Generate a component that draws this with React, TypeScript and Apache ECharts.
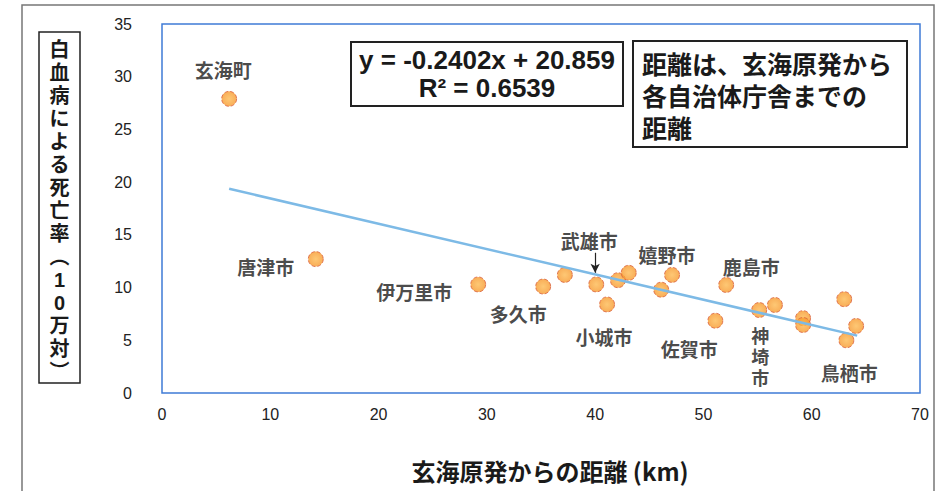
import React, { useEffect, useRef } from "react";
import * as echarts from "echarts";

// 自治体ごとの 玄海原発からの距離 (km) と 白血病による死亡率 (10万対)
const names = [
  "玄海町", "唐津市", "伊万里市", "多久市", "", "武雄市", "小城市", "", "", "", "嬉野市",
  "鹿島市", "佐賀市", "神埼市", "", "", "", "", "", "鳥栖市",
];
const distances = [6.2, 14.2, 29.2, 35.2, 37.2, 40.1, 41.1, 42.1, 43.1, 46.1, 47.1,
  52.1, 51.1, 55.15, 56.6, 59.2, 59.2, 63.0, 64.1, 63.2];
const rates = [27.9, 12.7, 10.3, 10.1, 11.2, 10.3, 8.4, 10.7, 11.4, 9.8, 11.2,
  10.25, 6.86, 7.87, 8.35, 7.1, 6.45, 8.9, 6.36, 5.0];
// label offsets (px) relative to each point
const labelOffsets: Record<string, [number, number]> = {
  "玄海町": [-6, -29],
  "唐津市": [-50, 7],
  "伊万里市": [-64, 7],
  "多久市": [-25, 27],
  "武雄市": [-7, -44],
  "小城市": [-3, 32],
  "嬉野市": [-5, -20],
  "鹿島市": [25, -18],
  "佐賀市": [-26, 28],
  "神埼市": [1, 48],
  "鳥栖市": [3, 32],
};
// arrow from the 武雄市 label down to its point (data units)
const arrowX = 40.0;
const arrowFromY = 13.3;
const arrowToY = 11.4;
// 近似直線 endpoints
const trendX = [6.2, 64.2];
const trendY = [19.37, 5.44];
const xTicks = { min: 0, max: 70, interval: 10 };
const yTicks = { min: 0, max: 35, interval: 5 };
const equationLines = ["y = -0.2402x + 20.859", "R² = 0.6539"];
const noteText = "距離は、玄海原発から\n各自治体庁舎までの\n距離";
const xTitle = "玄海原発からの距離 (km)";
const yTitleChars = ["白", "血", "病", "に", "よ", "る", "死", "亡", "率", "︵", "1", "0", "万", "対", "︶"];

const CJK = "'Noto Sans CJK JP', 'Noto Sans', sans-serif";
const STACK = "'Liberation Sans', 'Noto Sans CJK JP', sans-serif";

export default function App() {
  const ref = useRef<HTMLDivElement>(null);
  useEffect(() => {
    if (!ref.current) return;
    const chart = echarts.init(ref.current, null, { renderer: "svg" });
    const scatterData = distances.map((d, i) => {
      const n = names[i];
      const item: any = { value: [d, rates[i]], name: n };
      if (n && labelOffsets[n]) {
        let fmt = n;
        const vertical = n === "神埼市";
        if (vertical) fmt = n.split("").join("\n");
        item.label = {
          show: true,
          position: "inside",
          offset: labelOffsets[n],
          formatter: fmt,
          align: "center",
          verticalAlign: "middle",
          fontSize: vertical ? 18 : 19,
          fontFamily: vertical ? STACK : CJK,
          lineHeight: 21,
        };
      }
      return item;
    });
    const yTitleGraphics = yTitleChars.map((c, i) => ({
      type: "text",
      x: 59.5,
      y: 50 + i * 23,
      style: {
        text: c,
        fontSize: 20,
        fontWeight: "bold",
        fontFamily: STACK,
        fill: "#1a1a1a",
        align: "center",
        verticalAlign: "middle",
      },
    }));
    const equationGraphics = equationLines.map((t, i) => ({
      type: "text",
      x: 487,
      y: 60 + i * 28,
      style: {
        text: t,
        fontSize: 26,
        fontWeight: "bold",
        fontFamily: "'Liberation Sans', sans-serif",
        fill: "#1a1a1a",
        align: "center",
        verticalAlign: "middle",
      },
    }));
    chart.setOption({
      animation: false,
      backgroundColor: "#ffffff",
      grid: {
        left: 162,
        top: 24,
        width: 758,
        height: 369,
        show: true,
        borderColor: "#3F7BD6",
        borderWidth: 1.5,
        backgroundColor: "transparent",
      },
      xAxis: {
        type: "value",
        min: xTicks.min,
        max: xTicks.max,
        interval: xTicks.interval,
        axisLine: { show: false },
        axisTick: { show: false },
        splitLine: { show: false },
        axisLabel: {
          margin: 13,
          fontSize: 16,
          color: "#222",
          fontFamily: "'Liberation Sans Narrow', 'Liberation Sans', sans-serif",
        },
      },
      yAxis: {
        type: "value",
        min: yTicks.min,
        max: yTicks.max,
        interval: yTicks.interval,
        axisLine: { show: false },
        axisTick: { show: false },
        splitLine: { show: false },
        axisLabel: {
          margin: 30,
          fontSize: 16,
          color: "#222",
          fontFamily: "'Liberation Sans', sans-serif",
        },
      },
      series: [
        {
          type: "scatter",
          data: scatterData,
          symbolSize: 15,
          z: 2,
          itemStyle: {
            color: {
              type: "radial",
              x: 0.5,
              y: 0.5,
              r: 0.5,
              colorStops: [
                { offset: 0, color: "#FDBA52" },
                { offset: 1, color: "#F7992E" },
              ],
            },
            borderColor: "#D9603F",
            borderWidth: 1,
            borderType: "dashed",
          },
          label: {
            show: false,
            color: "#1a1a1a",
            fontSize: 19,
            fontWeight: "bold",
            fontFamily: CJK,
          },
          markLine: {
            silent: true,
            symbol: ["none", "arrow"],
            symbolSize: [7, 9],
            label: { show: false },
            lineStyle: { color: "#222", width: 1.2, type: "solid" },
            data: [[{ coord: [arrowX, arrowFromY] }, { coord: [arrowX, arrowToY] }]],
          },
          emphasis: { disabled: true },
        },
        {
          type: "line",
          data: trendX.map((x, i) => [x, trendY[i]]),
          symbol: "none",
          z: 3,
          lineStyle: { color: "#7DBAE6", width: 2.5 },
          emphasis: { disabled: true },
        },
      ],
      graphic: [
        {
          type: "rect",
          shape: { x: 22, y: 5, width: 912, height: 500 },
          style: { fill: "none", stroke: "#777", lineWidth: 1.5 },
          silent: true,
        },
        {
          type: "rect",
          shape: { x: 39, y: 32, width: 41, height: 351 },
          style: { fill: "#fff", stroke: "#222", lineWidth: 1.5 },
        },
        ...yTitleGraphics,
        {
          type: "rect",
          shape: { x: 351, y: 42, width: 272, height: 64 },
          style: { fill: "#fff", stroke: "#222", lineWidth: 2 },
        },
        ...equationGraphics,
        {
          type: "rect",
          shape: { x: 633, y: 41, width: 274, height: 106 },
          style: { fill: "#fff", stroke: "#222", lineWidth: 2 },
        },
        {
          type: "text",
          x: 642,
          y: 97,
          style: {
            text: noteText,
            fontSize: 25,
            fontWeight: "bold",
            fontFamily: STACK,
            lineHeight: 32,
            fill: "#1a1a1a",
            align: "left",
            verticalAlign: "middle",
          },
        },
        {
          type: "text",
          x: 550,
          y: 470,
          style: {
            text: xTitle,
            fontSize: 24,
            fontWeight: "bold",
            fontFamily: CJK,
            fill: "#1a1a1a",
            align: "center",
            verticalAlign: "middle",
          },
        },
      ],
    });
    return () => chart.dispose();
  }, []);
  return (
    <div
      ref={ref}
      style={{ position: "fixed", left: 0, top: 0, width: 943, height: 491 }}
    />
  );
}
